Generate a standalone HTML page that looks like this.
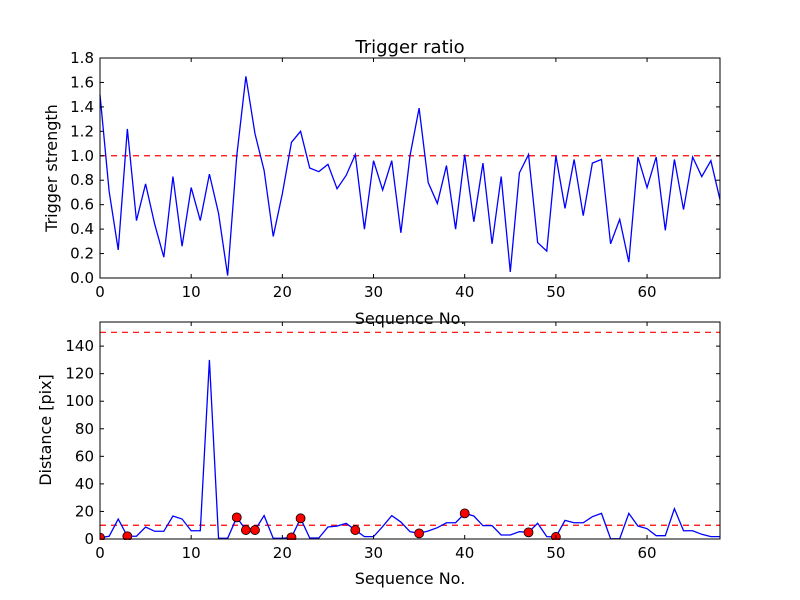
<!DOCTYPE html>
<html><head><meta charset="utf-8"><style>
html,body{margin:0;padding:0;background:#fff;}
svg{display:block;font-family:"DejaVu Sans","Liberation Sans",sans-serif;}
</style></head><body>
<svg id="chart" width="800" height="600"></svg>
<script>
const xTicks=[0,10,20,30,40,50,60];
const topTicks=[0.0,0.2,0.4,0.6,0.8,1.0,1.2,1.4,1.6,1.8];
const botTicks=[0,20,40,60,80,100,120,140];
const strength=[1.5,0.71,0.23,1.22,0.47,0.77,0.44,0.17,0.83,0.26,0.74,0.47,0.85,0.53,0.02,1.0,1.65,1.18,0.88,0.34,0.69,1.11,1.2,0.9,0.87,0.93,0.73,0.84,1.01,0.4,0.96,0.72,0.96,0.37,1.0,1.39,0.78,0.61,0.92,0.4,1.01,0.46,0.94,0.28,0.83,0.05,0.86,1.01,0.29,0.22,1.0,0.57,0.97,0.51,0.94,0.97,0.28,0.48,0.13,0.99,0.74,0.99,0.39,0.97,0.56,0.99,0.83,0.96,0.64];
const distance=[1,2,14.5,2,2,8.7,5.6,5.6,16.7,14.5,6,6,130,0.5,0.5,15.7,6.5,6.5,17,0.5,0.5,1.2,15,0.7,0.7,8.7,9.4,11.4,6.5,1.7,1.7,9,17,12.3,5.3,4.1,5.8,8.2,11.8,11.8,18.6,16.7,9.7,9.7,2.9,2.9,5.3,4.8,11.4,1.7,1.5,13.5,11.8,11.8,16.2,18.6,0.2,0.2,18.6,9.4,7.5,2.4,2.4,22,6,6,3.4,1.7,1.7];
const markedIdx=[0,3,15,16,17,21,22,28,35,40,47,50];
const strengthThreshold=1.0;
const distThresholds=[150,10];

const svg=document.getElementById('chart');
const NS='http://www.w3.org/2000/svg';
function mk(tag,attrs,parent){const e=document.createElementNS(NS,tag);for(const k in attrs)e.setAttribute(k,attrs[k]);(parent||svg).appendChild(e);return e;}
const L=100,R=720;
const xs=v=>L+(v-0)/(68-0)*(R-L);

function panel(name,top,bot,ymax){
  const ys=v=>bot-v/ymax*(bot-top);
  const g=mk('g',{});
  
  
  return {g,ys};
}

// ---------- Top panel ----------
let tp=panel('top',58,278,1.8);
let ys=tp.ys, g=tp.g;
let t=mk('text',{x:410,y:53,'text-anchor':'middle','font-size':18},g);t.textContent='Trigger ratio';

let th=mk('line',{x1:L,x2:R,y1:ys(strengthThreshold),y2:ys(strengthThreshold),stroke:'#f00','stroke-width':1.2,'stroke-dasharray':'6,5'},g);

let pl=mk('polyline',{points:strength.map((v,i)=>xs(i)+','+ys(v)).join(' '),fill:'none',stroke:'#00f','stroke-width':1.3},g);

let fr=mk('rect',{x:L,y:58,width:R-L,height:220,fill:'none',stroke:'#000','stroke-width':1},g);

topTicks.forEach(v=>{
  const y=ys(v);
  mk('line',{x1:L,x2:L+4,y1:y,y2:y,stroke:'#000'},g);mk('line',{x1:R,x2:R-4,y1:y,y2:y,stroke:'#000'},g);
  const tx=mk('text',{x:L-6,y:y+5,'text-anchor':'end','font-size':15},g);tx.textContent=v.toFixed(1);
  
});
xTicks.forEach(v=>{
  const x=xs(v);
  mk('line',{x1:x,x2:x,y1:278,y2:274,stroke:'#000'},g);mk('line',{x1:x,x2:x,y1:58,y2:62,stroke:'#000'},g);
  const tx=mk('text',{x:x,y:297,'text-anchor':'middle','font-size':15},g);tx.textContent=v;
  
});
t=mk('text',{x:410,y:324,'text-anchor':'middle','font-size':16},g);t.textContent='Sequence No.';

t=mk('text',{x:57,y:168,'text-anchor':'middle','font-size':16,transform:'rotate(-90 57 168)'},g);t.textContent='Trigger strength';


// ---------- Bottom panel ----------
let bp=panel('bottom',322,539,157.5);
ys=bp.ys; g=bp.g;
distThresholds.forEach(v=>{
  const l=mk('line',{x1:L,x2:R,y1:ys(v),y2:ys(v),stroke:'#f00','stroke-width':1.2,'stroke-dasharray':'6,5'},g);
  
});
pl=mk('polyline',{points:distance.map((v,i)=>xs(i)+','+ys(v)).join(' '),fill:'none',stroke:'#00f','stroke-width':1.3},g);

markedIdx.forEach(i=>{
  const c=mk('circle',{cx:xs(i),cy:ys(distance[i]),r:4.5,fill:'#f00',stroke:'#000','stroke-width':0.8},g);
  
});
const cover=mk('rect',{x:0,y:540,width:800,height:10,fill:'#fff'},g);

const cover2=mk('rect',{x:90,y:530,width:9.5,height:20,fill:'#fff'},g);

fr=mk('rect',{x:L,y:322,width:R-L,height:217,fill:'none',stroke:'#000','stroke-width':1},g);

botTicks.forEach(v=>{
  const y=ys(v);
  mk('line',{x1:L,x2:L+4,y1:y,y2:y,stroke:'#000'},g);mk('line',{x1:R,x2:R-4,y1:y,y2:y,stroke:'#000'},g);
  const tx=mk('text',{x:L-6,y:y+5,'text-anchor':'end','font-size':15},g);tx.textContent=v;
  
});
xTicks.forEach(v=>{
  const x=xs(v);
  mk('line',{x1:x,x2:x,y1:539,y2:535,stroke:'#000'},g);mk('line',{x1:x,x2:x,y1:322,y2:326,stroke:'#000'},g);
  const tx=mk('text',{x:x,y:558,'text-anchor':'middle','font-size':15},g);tx.textContent=v;
  
});
t=mk('text',{x:410,y:584,'text-anchor':'middle','font-size':16},g);t.textContent='Sequence No.';

t=mk('text',{x:51,y:430,'text-anchor':'middle','font-size':16,transform:'rotate(-90 51 430)'},g);t.textContent='Distance [pix]';

</script>
</body></html>
